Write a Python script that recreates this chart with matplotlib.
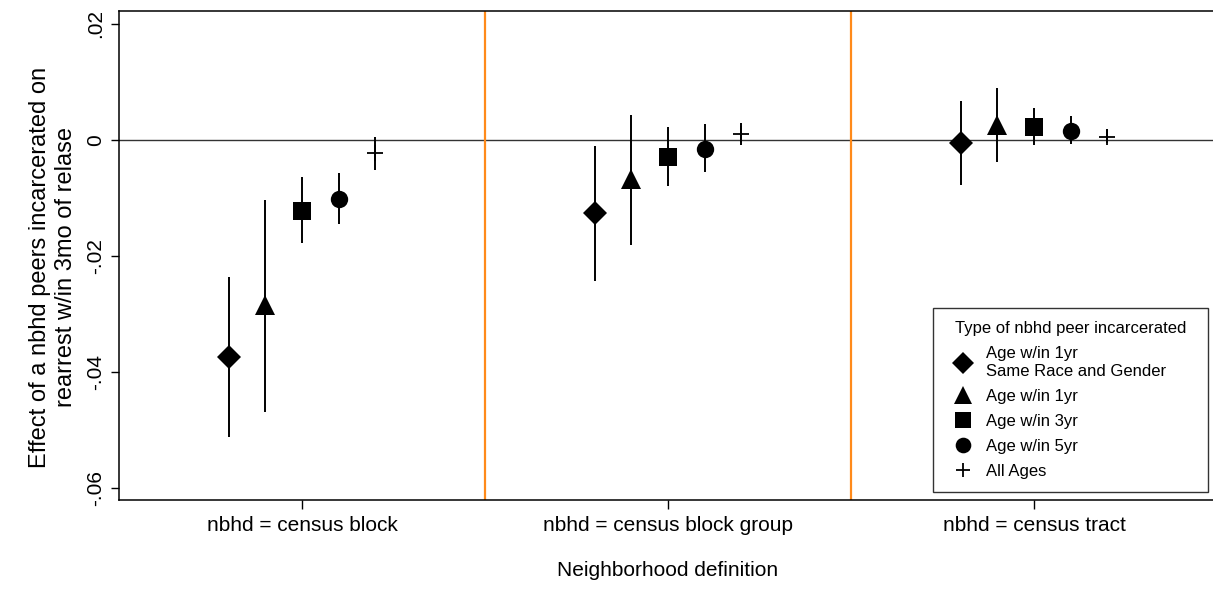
import matplotlib
matplotlib.use("Agg")
import matplotlib.pyplot as plt
import numpy as np

plt.rcParams["font.family"] = ["Liberation Sans", "DejaVu Sans"]

# neighbourhood definitions (x groups)
groups = ["nbhd = census block", "nbhd = census block group", "nbhd = census tract"]

# peer types (series)
series_names = ["Age w/in 1yr\nSame Race and Gender", "Age w/in 1yr", "Age w/in 3yr",
                "Age w/in 5yr", "All Ages"]
series_markers = ["D", "^", "s", "o", "+"]

# point estimates, one list per series, columns = groups
est_diamond = [-0.0374, -0.0126, -0.0005]
est_triangle = [-0.0284, -0.0067, 0.0026]
est_square = [-0.0122, -0.0029, 0.0022]
est_circle = [-0.0102, -0.0016, 0.0016]
est_plus = [-0.0023, 0.0010, 0.0005]

# confidence intervals (low, high)
lo_diamond = [-0.0512, -0.0243, -0.0078]
hi_diamond = [-0.0236, -0.0010, 0.0067]
lo_triangle = [-0.0469, -0.0181, -0.0038]
hi_triangle = [-0.0103, 0.0043, 0.0089]
lo_square = [-0.0178, -0.0079, -0.0009]
hi_square = [-0.0064, 0.0022, 0.0055]
lo_circle = [-0.0145, -0.0055, -0.0007]
hi_circle = [-0.0057, 0.0028, 0.0041]
lo_plus = [-0.0052, -0.0009, -0.0005]
hi_plus = [0.0005, 0.0029, 0.0019]

estimates = [est_diamond, est_triangle, est_square, est_circle, est_plus]
lows = [lo_diamond, lo_triangle, lo_square, lo_circle, lo_plus]
highs = [hi_diamond, hi_triangle, hi_square, hi_circle, hi_plus]

ytick_vals = [0.02, 0.0, -0.02, -0.04, -0.06]
ytick_labels = [".02", "0", "-.02", "-.04", "-.06"]

W, H = 1213, 591
fig = plt.figure(figsize=(W / 100, H / 100), dpi=100)
ax = fig.add_axes([119 / W, 1 - 500 / H, 1098 / W, 489 / H])

marker_sizes = {"D": 12, "^": 15, "s": 13, "o": 12.5, "+": 11}
offsets = [-0.2, -0.1, 0.0, 0.1, 0.2]
xg = np.arange(1, len(groups) + 1)

ax.axhline(0, color="#333333", lw=1.0, zorder=1)
for b in [1.5, 2.5]:
    ax.axvline(b, color="#FF8A1A", lw=1.6, zorder=1)

for i, name in enumerate(series_names):
    x = xg + offsets[i]
    ax.vlines(x, lows[i], highs[i], color="black", lw=1.4, zorder=2)
    m = series_markers[i]
    ax.plot(x, estimates[i], linestyle="none", marker=m, color="black",
            markersize=marker_sizes[m], markeredgewidth=1.3 if m == "+" else 0,
            label=name, zorder=3)

ax.set_xlim(0.5, 3.5)
ax.set_ylim(-0.06207, 0.02224)
ax.set_xticks(xg)
ax.set_xticklabels(groups, fontsize=15)
ax.set_yticks(ytick_vals)
ax.set_yticklabels(ytick_labels, fontsize=15, rotation=90, va="center")
ax.tick_params(axis="x", length=6.5, width=1, pad=5)
ax.tick_params(axis="y", length=6, width=1, pad=4)

for s in ["left", "bottom", "top", "right"]:
    ax.spines[s].set_color("black")
    ax.spines[s].set_linewidth(1.1)

ax.set_xlabel("Neighborhood definition", fontsize=15)
ax.xaxis.set_label_coords(0.5, -0.145)
ax.xaxis.label.set_va("center")
ax.set_ylabel("Effect of a nbhd peers incarcerated on\nrearrest w/in 3mo of relase", fontsize=17)
ax.yaxis.set_label_coords(-0.060, 0.476)
ax.yaxis.label.set_va("center")

# legend box placed where the reference has it (figure pixels)
leg = ax.legend(title="Type of nbhd peer incarcerated", fontsize=12, title_fontsize=12,
                loc="lower left", mode="expand",
                bbox_to_anchor=(933 / W, 1 - 492 / H, 275 / W, 181 / H),
                bbox_transform=fig.transFigure, borderaxespad=0,
                frameon=True, fancybox=False, edgecolor="black", numpoints=1,
                handlelength=2.0, markerscale=0.9, handletextpad=0.4,
                labelspacing=0.6, borderpad=0.8)
leg.get_frame().set_linewidth(1.0)

fig.savefig("out.png", dpi=100)
